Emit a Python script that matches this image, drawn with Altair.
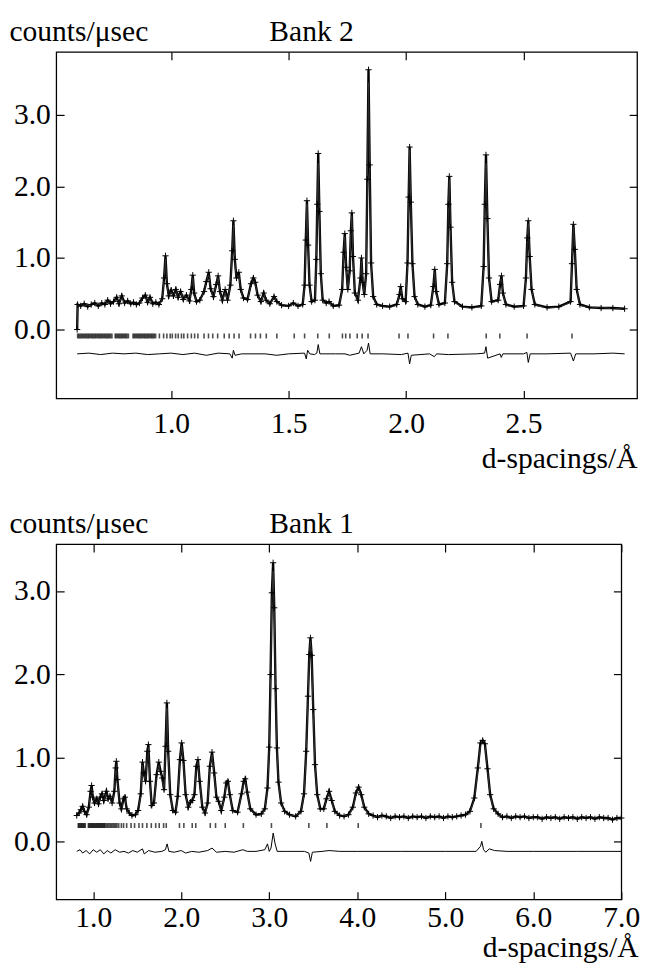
import altair as alt
import pandas as pd

FONT = "Liberation Serif"
FS = 30
PLUS = "M-1,0L1,0M0,-1L0,1"

# ---------------- Bank 2 (top panel) ----------------
b2_d = [0.600, 0.602, 0.615, 0.630, 0.645, 0.660, 0.675, 0.690, 0.705, 0.718,
        0.730, 0.742, 0.755, 0.768, 0.778, 0.790, 0.802, 0.815, 0.828, 0.840,
        0.852, 0.865, 0.878, 0.890, 0.900, 0.910, 0.922, 0.935, 0.948, 0.962,
        0.970, 0.976, 0.982, 0.990, 1.000, 1.010, 1.020, 1.030, 1.040, 1.052,
        1.065, 1.078, 1.086, 1.092, 1.098, 1.108, 1.122, 1.140, 1.150, 1.160,
        1.168, 1.180, 1.192, 1.200, 1.208, 1.218, 1.230, 1.240, 1.252, 1.260,
        1.265, 1.271, 1.278, 1.288, 1.296, 1.308, 1.325, 1.340, 1.350, 1.358,
        1.368, 1.382, 1.394, 1.404, 1.420, 1.438, 1.450, 1.470, 1.500, 1.520,
        1.540, 1.560, 1.568, 1.573, 1.578, 1.583, 1.589, 1.598, 1.612, 1.618,
        1.622, 1.626, 1.631, 1.637, 1.645, 1.660, 1.672, 1.690, 1.715, 1.728,
        1.734, 1.739, 1.745, 1.752, 1.760, 1.765, 1.769, 1.774, 1.782, 1.795,
        1.806, 1.810, 1.815, 1.822, 1.830, 1.835, 1.840, 1.845, 1.851, 1.860,
        1.875, 1.900, 1.930, 1.960, 1.972, 1.977, 1.984, 1.998, 2.006, 2.011,
        2.015, 2.020, 2.027, 2.036, 2.050, 2.080, 2.105, 2.116, 2.122, 2.128,
        2.140, 2.165, 2.175, 2.180, 2.184, 2.189, 2.196, 2.206, 2.240, 2.280,
        2.320, 2.330, 2.335, 2.340, 2.346, 2.353, 2.364, 2.392, 2.400, 2.406,
        2.412, 2.425, 2.460, 2.500, 2.510, 2.516, 2.520, 2.526, 2.534, 2.548,
        2.600, 2.650, 2.700, 2.706, 2.712, 2.718, 2.726, 2.740, 2.780, 2.830,
        2.880, 2.930]
b2_calc = [0.00, 0.34, 0.32, 0.35, 0.33, 0.34, 0.36, 0.34, 0.36, 0.34,
           0.40, 0.35, 0.38, 0.43, 0.37, 0.45, 0.36, 0.39, 0.35, 0.37,
           0.34, 0.36, 0.42, 0.46, 0.39, 0.43, 0.35, 0.37, 0.34, 0.42,
           0.70, 0.99, 0.62, 0.46, 0.53, 0.46, 0.55, 0.44, 0.52, 0.41,
           0.47, 0.39, 0.55, 0.74, 0.50, 0.38, 0.40, 0.52, 0.66, 0.78,
           0.56, 0.45, 0.62, 0.74, 0.52, 0.40, 0.52, 0.40, 0.60, 1.05,
           1.46, 0.95, 0.70, 0.78, 0.55, 0.43, 0.41, 0.62, 0.70, 0.64,
           0.47, 0.38, 0.50, 0.40, 0.35, 0.45, 0.38, 0.33, 0.32, 0.36,
           0.32, 0.34, 0.60, 1.20, 1.76, 1.15, 0.60, 0.38, 0.40, 0.95,
           1.70, 2.32, 1.60, 0.75, 0.40, 0.36, 0.38, 0.32, 0.33, 0.55,
           1.05, 1.31, 0.85, 0.55, 0.80, 1.35, 1.60, 1.00, 0.50, 0.40,
           0.70, 0.98, 0.65, 0.48, 0.75, 2.00, 3.45, 2.20, 0.90, 0.45,
           0.34, 0.32, 0.31, 0.34, 0.48, 0.58, 0.42, 0.38, 0.90, 1.80,
           2.52, 1.75, 0.90, 0.45, 0.34, 0.31, 0.33, 0.58, 0.82, 0.52,
           0.34, 0.36, 0.90, 1.70, 2.12, 1.40, 0.65, 0.38, 0.31, 0.30,
           0.32, 0.85, 1.70, 2.32, 1.50, 0.70, 0.38, 0.40, 0.62, 0.73,
           0.50, 0.34, 0.31, 0.32, 0.70, 1.25, 1.50, 1.00, 0.55, 0.34,
           0.30, 0.31, 0.38, 0.90, 1.45, 1.10, 0.55, 0.34, 0.30, 0.31,
           0.29, 0.29]
b2_obs = [0.00, 0.35, 0.33, 0.36, 0.32, 0.35, 0.37, 0.33, 0.37, 0.35,
          0.41, 0.36, 0.39, 0.45, 0.36, 0.47, 0.37, 0.40, 0.36, 0.38,
          0.35, 0.37, 0.44, 0.48, 0.38, 0.45, 0.36, 0.38, 0.35, 0.43,
          0.72, 1.03, 0.64, 0.47, 0.55, 0.47, 0.56, 0.45, 0.53, 0.42,
          0.48, 0.40, 0.56, 0.76, 0.51, 0.39, 0.41, 0.53, 0.67, 0.80,
          0.57, 0.46, 0.63, 0.75, 0.53, 0.41, 0.56, 0.41, 0.62, 1.10,
          1.52, 0.98, 0.72, 0.80, 0.56, 0.44, 0.42, 0.64, 0.72, 0.66,
          0.48, 0.39, 0.51, 0.41, 0.36, 0.46, 0.39, 0.34, 0.33, 0.37,
          0.33, 0.35, 0.62, 1.25, 1.80, 1.18, 0.62, 0.39, 0.41, 0.98,
          1.75, 2.46, 1.65, 0.78, 0.41, 0.37, 0.39, 0.33, 0.34, 0.56,
          1.08, 1.34, 0.87, 0.56, 0.82, 1.38, 1.63, 1.02, 0.51, 0.41,
          0.72, 1.00, 0.66, 0.49, 0.78, 2.10, 3.63, 2.30, 0.93, 0.46,
          0.35, 0.33, 0.32, 0.35, 0.49, 0.60, 0.43, 0.39, 0.93, 1.85,
          2.55, 1.78, 0.92, 0.46, 0.35, 0.32, 0.34, 0.60, 0.84, 0.53,
          0.35, 0.37, 0.92, 1.75, 2.14, 1.43, 0.66, 0.39, 0.32, 0.31,
          0.33, 0.88, 1.75, 2.44, 1.55, 0.72, 0.39, 0.41, 0.63, 0.75,
          0.51, 0.35, 0.32, 0.33, 0.72, 1.28, 1.52, 1.02, 0.56, 0.35,
          0.31, 0.32, 0.39, 0.92, 1.47, 1.12, 0.56, 0.35, 0.31, 0.30,
          0.30, 0.29]
b2_diff_d = [0.600, 0.650, 0.700, 0.750, 0.800, 0.850, 0.900, 0.950, 1.000, 1.050,
             1.100, 1.150, 1.200, 1.250, 1.260, 1.265, 1.272, 1.300, 1.400, 1.450,
             1.500, 1.568, 1.575, 1.581, 1.590, 1.610, 1.620, 1.626, 1.633, 1.700,
             1.740, 1.760, 1.800, 1.810, 1.820, 1.834, 1.840, 1.847, 1.900, 1.980,
             2.008, 2.015, 2.022, 2.100, 2.120, 2.130, 2.180, 2.300, 2.334, 2.340,
             2.347, 2.400, 2.405, 2.412, 2.500, 2.514, 2.520, 2.528, 2.600, 2.700,
             2.712, 2.722, 2.800, 2.880, 2.930]
b2_diff = [-0.34, -0.33, -0.35, -0.33, -0.34, -0.33, -0.35, -0.34, -0.33, -0.35,
           -0.33, -0.36, -0.33, -0.34, -0.40, -0.29, -0.36, -0.34, -0.34, -0.36,
           -0.34, -0.33, -0.41, -0.29, -0.34, -0.35, -0.33, -0.21, -0.34, -0.34,
           -0.34, -0.36, -0.33, -0.24, -0.34, -0.29, -0.19, -0.34, -0.34, -0.35,
           -0.33, -0.48, -0.36, -0.34, -0.38, -0.34, -0.35, -0.34, -0.33, -0.24,
           -0.40, -0.34, -0.39, -0.34, -0.34, -0.32, -0.46, -0.34, -0.34, -0.33,
           -0.44, -0.34, -0.34, -0.33, -0.34]
b2_refl = [0.602, 0.607, 0.612, 0.617, 0.622, 0.627, 0.632, 0.637, 0.642, 0.647,
           0.652, 0.657, 0.662, 0.667, 0.672, 0.677, 0.682, 0.687, 0.692, 0.697,
           0.702, 0.707, 0.712, 0.717, 0.722, 0.727, 0.732, 0.737, 0.742, 0.748,
           0.762, 0.767, 0.772, 0.777, 0.782, 0.787, 0.792, 0.797, 0.802, 0.807,
           0.812, 0.818, 0.838, 0.843, 0.848, 0.853, 0.858, 0.863, 0.868, 0.873,
           0.878, 0.883, 0.888, 0.893, 0.898, 0.903, 0.908, 0.913, 0.918, 0.923,
           0.928, 0.934, 0.950, 0.968, 0.982, 0.996, 1.005, 1.019, 1.030, 1.044,
           1.054, 1.070, 1.086, 1.100, 1.114, 1.140, 1.159, 1.177, 1.198, 1.226,
           1.247, 1.268, 1.289, 1.338, 1.359, 1.380, 1.405, 1.450, 1.524, 1.568,
           1.624, 1.673, 1.729, 1.743, 1.761, 1.792, 1.813, 1.838, 1.970, 2.008,
           2.117, 2.178, 2.341, 2.399, 2.515, 2.706]
b2_refl_level = -0.09

# ---------------- Bank 1 (bottom panel) ----------------
b1_d = [0.813, 0.840, 0.860, 0.880, 0.900, 0.925, 0.950, 0.970, 0.982, 0.995,
        1.015, 1.040, 1.060, 1.080, 1.100, 1.120, 1.150, 1.170, 1.190, 1.215,
        1.240, 1.255, 1.263, 1.275, 1.300, 1.320, 1.345, 1.360, 1.380, 1.410,
        1.440, 1.480, 1.510, 1.540, 1.560, 1.575, 1.595, 1.615, 1.627, 1.645,
        1.665, 1.690, 1.720, 1.745, 1.765, 1.785, 1.805, 1.822, 1.837, 1.852,
        1.875, 1.905, 1.935, 1.960, 1.985, 2.005, 2.025, 2.050, 2.080, 2.105,
        2.125, 2.150, 2.172, 2.190, 2.210, 2.240, 2.270, 2.300, 2.325, 2.350,
        2.375, 2.400, 2.425, 2.455, 2.490, 2.512, 2.530, 2.552, 2.585, 2.640,
        2.685, 2.710, 2.727, 2.750, 2.785, 2.850, 2.910, 2.950, 2.980, 3.000,
        3.015, 3.030, 3.044, 3.057, 3.072, 3.087, 3.105, 3.135, 3.175, 3.230,
        3.300, 3.360, 3.395, 3.420, 3.440, 3.455, 3.468, 3.482, 3.500, 3.520,
        3.545, 3.580, 3.620, 3.650, 3.680, 3.710, 3.745, 3.800, 3.850, 3.900,
        3.950, 3.985, 4.015, 4.045, 4.080, 4.130, 4.180, 4.230, 4.280, 4.330,
        4.380, 4.430, 4.480, 4.530, 4.580, 4.630, 4.680, 4.730, 4.780, 4.830,
        4.880, 4.930, 4.980, 5.030, 5.080, 5.130, 5.180, 5.230, 5.280, 5.330,
        5.370, 5.400, 5.425, 5.450, 5.480, 5.510, 5.550, 5.600, 5.650, 5.700,
        5.750, 5.800, 5.850, 5.900, 5.950, 6.000, 6.050, 6.100, 6.150, 6.200,
        6.250, 6.300, 6.350, 6.400, 6.450, 6.500, 6.550, 6.600, 6.650, 6.700,
        6.750, 6.800, 6.850, 6.900, 6.950, 7.000]
b1_calc = [0.30, 0.33, 0.37, 0.41, 0.35, 0.31, 0.40, 0.58, 0.64, 0.52,
           0.45, 0.50, 0.44, 0.52, 0.56, 0.48, 0.58, 0.50, 0.53, 0.45,
           0.58, 0.85, 0.92, 0.72, 0.45, 0.38, 0.50, 0.52, 0.38, 0.33,
           0.30, 0.31, 0.36, 0.55, 0.92, 0.80, 0.70, 1.05, 1.13, 0.70,
           0.42, 0.45, 0.78, 0.92, 0.82, 0.75, 0.60, 1.10, 1.60, 1.05,
           0.55, 0.36, 0.34, 0.52, 0.95, 1.15, 0.95, 0.55, 0.40, 0.46,
           0.48, 0.55, 0.88, 0.96, 0.70, 0.40, 0.33, 0.45, 0.88, 1.04,
           0.80, 0.52, 0.47, 0.36, 0.52, 0.68, 0.70, 0.55, 0.36, 0.34,
           0.55, 0.70, 0.73, 0.58, 0.38, 0.31, 0.32, 0.38, 0.62, 1.10,
           1.95, 2.90, 3.24, 2.75, 1.80, 1.10, 0.70, 0.45, 0.35, 0.31,
           0.31, 0.35, 0.55, 1.05, 1.70, 2.20, 2.41, 2.20, 1.55, 0.90,
           0.55, 0.38, 0.38, 0.50, 0.58, 0.48, 0.35, 0.30, 0.31, 0.31,
           0.40, 0.56, 0.63, 0.55, 0.40, 0.32, 0.30, 0.30, 0.30, 0.29,
           0.29, 0.29, 0.29, 0.29, 0.29, 0.29, 0.29, 0.29, 0.29, 0.29,
           0.29, 0.29, 0.29, 0.29, 0.29, 0.30, 0.30, 0.31, 0.35, 0.50,
           0.85, 1.15, 1.23, 1.15, 0.85, 0.55, 0.38, 0.32, 0.30, 0.29,
           0.29, 0.29, 0.29, 0.29, 0.29, 0.28, 0.28, 0.28, 0.28, 0.28,
           0.28, 0.28, 0.28, 0.28, 0.28, 0.28, 0.28, 0.28, 0.28, 0.28,
           0.28, 0.27, 0.27, 0.27, 0.27, 0.27]
b1_obs = [0.31, 0.34, 0.38, 0.42, 0.36, 0.32, 0.41, 0.60, 0.67, 0.53,
          0.46, 0.51, 0.45, 0.53, 0.57, 0.49, 0.60, 0.51, 0.54, 0.46,
          0.60, 0.88, 0.96, 0.74, 0.46, 0.39, 0.51, 0.53, 0.39, 0.34,
          0.31, 0.32, 0.37, 0.57, 0.95, 0.82, 0.72, 1.08, 1.16, 0.72,
          0.43, 0.46, 0.80, 0.95, 0.84, 0.76, 0.62, 1.14, 1.66, 1.08,
          0.56, 0.37, 0.35, 0.54, 0.98, 1.18, 0.97, 0.56, 0.41, 0.47,
          0.49, 0.56, 0.90, 0.98, 0.72, 0.41, 0.34, 0.46, 0.90, 1.07,
          0.82, 0.53, 0.48, 0.37, 0.53, 0.70, 0.72, 0.56, 0.37, 0.35,
          0.57, 0.72, 0.75, 0.59, 0.39, 0.32, 0.33, 0.39, 0.64, 1.13,
          2.00, 2.98, 3.34, 2.80, 1.83, 1.12, 0.71, 0.46, 0.36, 0.32,
          0.30, 0.36, 0.57, 1.08, 1.74, 2.24, 2.44, 2.23, 1.58, 0.92,
          0.56, 0.39, 0.39, 0.51, 0.60, 0.49, 0.36, 0.31, 0.30, 0.32,
          0.41, 0.58, 0.65, 0.56, 0.41, 0.33, 0.31, 0.29, 0.31, 0.30,
          0.28, 0.30, 0.29, 0.30, 0.28, 0.30, 0.29, 0.30, 0.28, 0.30,
          0.29, 0.30, 0.28, 0.30, 0.29, 0.30, 0.31, 0.32, 0.36, 0.52,
          0.88, 1.18, 1.21, 1.17, 0.87, 0.56, 0.39, 0.33, 0.29, 0.30,
          0.28, 0.30, 0.29, 0.30, 0.28, 0.29, 0.29, 0.27, 0.29, 0.28,
          0.29, 0.27, 0.29, 0.28, 0.29, 0.27, 0.29, 0.28, 0.29, 0.27,
          0.29, 0.28, 0.28, 0.26, 0.28, 0.28]
b1_diff_d = [0.813, 0.850, 0.880, 0.920, 0.960, 1.000, 1.040, 1.080, 1.120, 1.160,
             1.200, 1.250, 1.300, 1.350, 1.400, 1.450, 1.500, 1.560, 1.580, 1.630,
             1.700, 1.780, 1.820, 1.840, 1.860, 1.920, 2.000, 2.050, 2.120, 2.200,
             2.300, 2.350, 2.400, 2.500, 2.600, 2.700, 2.750, 2.850, 2.950, 2.980,
             3.000, 3.020, 3.045, 3.065, 3.090, 3.200, 3.400, 3.450, 3.470, 3.490,
             3.600, 3.680, 3.800, 4.000, 4.500, 5.000, 5.350, 5.400, 5.415, 5.435,
             5.460, 5.500, 5.560, 5.700, 6.000, 6.500, 7.000]
b1_diff = [-0.12, -0.10, -0.14, -0.11, -0.15, -0.10, -0.13, -0.10, -0.15, -0.11,
           -0.14, -0.10, -0.13, -0.12, -0.14, -0.11, -0.13, -0.09, -0.15, -0.11,
           -0.13, -0.12, -0.10, -0.03, -0.12, -0.13, -0.11, -0.14, -0.12, -0.13,
           -0.11, -0.08, -0.13, -0.12, -0.13, -0.10, -0.12, -0.12, -0.10, -0.03,
           -0.12, -0.08, 0.10, -0.02, -0.12, -0.12, -0.12, -0.14, -0.24, -0.13,
           -0.12, -0.11, -0.12, -0.12, -0.12, -0.12, -0.12, -0.06, 0.00, -0.10,
           -0.13, -0.09, -0.11, -0.12, -0.12, -0.12, -0.12]
b1_refl = [0.830, 0.840, 0.850, 0.860, 0.870, 0.880, 0.890, 0.900, 0.910, 0.945,
           0.955, 0.965, 0.975, 0.985, 0.995, 1.005, 1.015, 1.025, 1.035, 1.045,
           1.055, 1.065, 1.075, 1.085, 1.095, 1.105, 1.115, 1.125, 1.135, 1.150,
           1.165, 1.180, 1.195, 1.210, 1.225, 1.240, 1.255, 1.270, 1.290, 1.320,
           1.345, 1.380, 1.430, 1.470, 1.520, 1.560, 1.610, 1.660, 1.710, 1.750,
           1.800, 1.830, 1.980, 2.030, 2.125, 2.165, 2.330, 2.390, 2.500, 2.706,
           3.025, 3.450, 3.655, 4.011, 5.405]
b1_refl_level = 0.19

# axis ticks
b2_xticks = [1.0, 1.5, 2.0, 2.5]
b1_xticks = [1.0, 2.0, 3.0, 4.0, 5.0, 6.0, 7.0]
y_ticks = [0.0, 1.0, 2.0, 3.0]


def panel(d, calc, obs, dd, dv, refl, refl_y, xdom, ydom, xvals, w, h, bank,
          lab_pad, xtitle_x, xtitle_y):
    prof = pd.DataFrame({"d": d, "calc": calc, "obs": obs})
    diff = pd.DataFrame({"d": dd, "v": dv})
    tks = pd.DataFrame({"d": refl, "y": [refl_y] * len(refl)})
    xs = alt.Scale(domain=xdom, nice=False, zero=False)
    ys = alt.Scale(domain=ydom, nice=False, zero=False)
    common = dict(labelFont=FONT, labelFontSize=FS, labelColor="black",
                  tickColor="black", tickWidth=1.2, tickSize=8, offset=-8,
                  domain=False, grid=False)
    ttl = dict(titleFont=FONT, titleFontSize=FS, titleFontWeight="normal",
               titleColor="black", titleBaseline="alphabetic")
    x_main = alt.X("d:Q", scale=xs, axis=alt.Axis(
        orient="bottom", values=xvals, format=".1f", labelPadding=lab_pad,
        labelFlush=False, title="d-spacings/Å",
        titleX=xtitle_x, titleY=xtitle_y, titleAlign="right", **ttl, **common))
    y_main = alt.Y("obs:Q", scale=ys, axis=alt.Axis(
        orient="left", values=y_ticks, format=".1f", labelPadding=6,
        title="counts/μsec", titleAngle=0, titleX=-56, titleY=-12,
        titleAlign="left", **ttl, **common))
    x_top = alt.X("d:Q", scale=xs, axis=alt.Axis(
        orient="top", values=xvals, labels=False, title=bank,
        titleX=216, titleY=-20, titleAlign="left", **ttl, **common))
    y_right = alt.Y("v:Q", scale=ys, axis=alt.Axis(
        orient="right", values=y_ticks, labels=False, title=None, **common))
    x_plain = alt.X("d:Q", scale=xs, axis=None)

    obs_line = alt.Chart(prof).mark_line(color="black", strokeWidth=2.4).encode(
        x=x_main, y=y_main)
    calc_line = alt.Chart(prof).mark_line(color="#333333", strokeWidth=1).encode(
        x=x_plain, y=alt.Y("calc:Q", scale=ys, axis=None))
    pts = alt.Chart(prof).mark_point(
        shape=PLUS, filled=False, size=40, strokeWidth=1, color="black",
        opacity=1).encode(x=x_plain, y=alt.Y("obs:Q", scale=ys, axis=None))
    refl_marks = alt.Chart(tks).mark_tick(
        orient="vertical", size=5, thickness=1.6, color="black").encode(
        x=x_plain, y=alt.Y("y:Q", scale=ys, axis=None))
    diff_line = alt.Chart(diff).mark_line(color="black", strokeWidth=1).encode(
        x=x_top, y=y_right)

    return alt.layer(obs_line, calc_line, pts, refl_marks, diff_line).resolve_axis(
        x="independent", y="independent").properties(width=w, height=h)


top = panel(b2_d, b2_calc, b2_obs, b2_diff_d, b2_diff, b2_refl, b2_refl_level,
            [0.511, 2.983], [-0.963, 3.879], b2_xticks, 590, 352, "Bank 2",
            11, 590, 78)
bottom = panel(b1_d, b1_calc, b1_obs, b1_diff_d, b1_diff, b1_refl, b1_refl_level,
               [0.58, 7.0], [-0.697, 3.563], b1_xticks, 574, 361, "Bank 1",
               3, 591, 66)

chart = alt.vconcat(top, bottom, spacing=34).properties(
    padding={"left": 0, "top": 0, "right": 0, "bottom": 0},
    background="white").configure_view(stroke="black", strokeWidth=1.3)

chart.save("out.html", embed_options={"renderer": "svg", "actions": False})
